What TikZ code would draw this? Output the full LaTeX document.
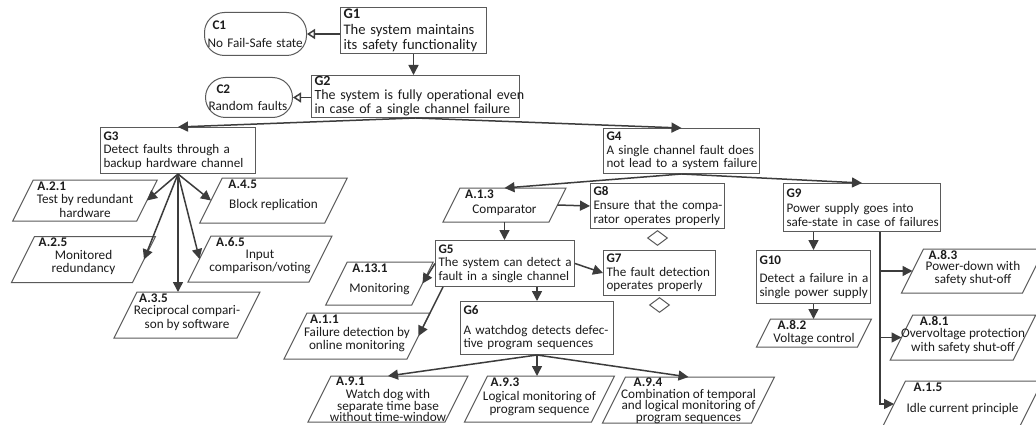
\documentclass[tikz,border=0pt]{standalone}
\usepackage{fontspec}
\setmainfont{Carlito}
\usetikzlibrary{arrows.meta,calc,shapes.geometric}

\definecolor{edgec}{HTML}{3C3C3C}
\definecolor{bordc}{HTML}{5A5A5A}
\definecolor{inkc}{HTML}{1C1C1C}

\tikzset{
  goal/.style={draw=bordc, line width=1pt, rectangle, anchor=north west,
    align=left, inner xsep=3pt, inner ysep=0pt, text=inkc},
  ctx/.style={draw=bordc, line width=1pt, rectangle, rounded corners=20pt,
    anchor=north west, align=left, inner xsep=3pt, inner ysep=0pt, text=inkc},
  pframe/.style={rectangle, inner sep=0pt, outer sep=0pt, draw=none},
  pbord/.style={draw=bordc, line width=1pt, line join=miter},
  ptxt/.style={align=center, inner sep=0pt, text=inkc},
  tight/.style={font=\fontsize{13.2}{11.6}\selectfont},
  idtxt/.style={font=\fontsize{13.2}{13.5}\selectfont\bfseries, inner sep=0pt, text=inkc},
  undev/.style={draw=bordc, line width=1pt, diamond, inner sep=0pt,
    minimum width=20pt, minimum height=15pt, anchor=north},
  arr/.style={draw=edgec, line width=1.5pt, -{Triangle[length=10pt,width=10pt]}},
  oarr/.style={draw=edgec, line width=1.5pt, -{Triangle[open,length=8pt,width=10pt,fill=white]}},
}

% goal box: [font] name, top-left corner, text width, height, gap after id,
% id, first line, second line
\newcommand\goalbox[9][\fontsize{13.1}{13.6}\selectfont]{%
  \node[goal, font=#1, text width=#4, minimum height=#5] (#2) at (#3)
    {\textbf{#7}\\[#6]\mbox{#8}\\\mbox{#9}};}
% solution parallelogram: [text style] name, centre, edge width, height,
% id offset, id, text shift, text
\newcommand\para[9][]{%
  \node[pframe, minimum width=#4, minimum height=#5] (#2) at (#3) {};
  \draw[pbord] ($(#2.south west)+(-0.25*#5,0)$) -- ($(#2.north west)+(0.25*#5,0)$)
     -- ($(#2.north east)+(0.25*#5,0)$) -- ($(#2.south east)+(-0.25*#5,0)$) -- cycle;
  \node[idtxt, anchor=base west] (#2id) at ($(#2.north west)+(0.25*#5,0)+(#6)$) {#7};
  \node[ptxt,#1] (#2txt) at ($(#2.center)+(0,#8)$) {#9};
}

\begin{document}
\begin{tikzpicture}[x={(1pt,0pt)}, y={(0pt,-1pt)}, font=\fontsize{13.2}{13.5}\selectfont]
\fill[white] (0,0) rectangle (1036,425);
\useasboundingbox (0,0) rectangle (1036,425);

% goals
\goalbox[\fontsize{14.6}{15.4}\selectfont]{G1}{340,7}{140}{46}{0pt}{G1}{The system maintains}{its safety functionality}
\goalbox[\fontsize{14}{14}\selectfont]{G2}{311,75}{202}{42}{0pt}{G2}{The system is fully operational even}{in case of a single channel failure}
\goalbox{G3}{100,127}{149}{46}{0pt}{G3}{Detect faults through a}{backup hardware channel}
\goalbox{G4}{603,128}{150}{45}{0pt}{G4}{A single channel fault does}{not lead to a system failure}
\goalbox{G5}{435,240}{133}{46}{0pt}{G5}{The system can detect a}{fault in a single channel}
\goalbox{G6}{460,301}{147}{53}{6pt}{G6}{A watchdog detects defec-}{tive program sequences}
\goalbox{G7}{603,250}{106}{45}{0pt}{G7}{The fault detection}{operates properly}
\goalbox{G8}{590,183}{128}{45}{0pt}{G8}{Ensure that the compa-}{rator operates properly}
\goalbox{G9}{783,183}{151}{48}{2pt}{G9}{Power supply goes into}{safe-state in case of failures}
\goalbox{G10}{756,250}{108}{53}{5pt}{G10}{Detect a failure in a}{single power supply}

% contexts
\node[ctx, text width=96, minimum height=43] (C1) at (204,12)
  {\hspace*{5pt}\textbf{C1}\\[4pt]\mbox{No Fail-Safe state}};
\node[ctx, text width=81, minimum height=40] (C2) at (205,77)
  {\hspace*{8pt}\textbf{C2}\\[3pt]\mbox{Random faults}};

% undeveloped markers
\node[undev] (G8u) at ($(G8.south)+(0,1)$) {};
\node[undev] (G7u) at ($(G7.south)+(0,1)$) {};

% solutions
\para{A21}{85,200.5}{124}{41}{4,10}{A.2.1}{5.5}{Test by redundant\\hardware}
\para{A25}{83.5,259.5}{121}{46}{4,10}{A.2.5}{3}{Monitored\\redundancy}
\para{A35}{187,315}{123}{46}{2,10}{A.3.5}{3}{Reciprocal compari-\\son by software}
\para{A45}{273.5,200.5}{125}{45}{6,10}{A.4.5}{4.5}{Block replication}
\para{A65}{260,259}{121}{46}{5,10}{A.6.5}{3}{Input\\comparison/voting}
\para{A131}{379.5,283.5}{86}{43}{5,10}{A.13.1}{5.5}{Monitoring}
\para{A11}{357,336}{123}{46}{3,10}{A.1.1}{3.5}{Failure detection by\\online monitoring}
\para{A13}{504.5,205}{106}{34}{5,10}{A.1.3}{5}{Comparator}
\para[tight]{A91}{388,399}{137}{46}{5,9.5}{A.9.1}{6.5}{Watch dog with\\separate time base\\without time-window}
\para{A93}{539.5,399}{127}{46}{3,10}{A.9.3}{4.5}{Logical monitoring of\\program sequence}
\para[tight]{A94}{688.5,400}{149}{46}{8,9}{A.9.4}{6.5}{Combination of temporal\\and logical monitoring of\\program sequences}
\para{A82}{814,333}{101}{28}{7,10}{A.8.2}{6.5}{Voltage control}
\para{A83}{973,271}{121}{44}{5,10}{A.8.3}{2.5}{Power-down with\\safety shut-off}
\para{A81}{963,337.5}{123}{45}{7,10}{A.8.1}{3.5}{Overvoltage protection\\with safety shut-off}
\para{A15}{962.5,404}{137}{46}{8,10}{A.1.5}{4.5}{Idle current principle}

% in-context-of links
\draw[oarr] (C1.east -| G1.west) -- (C1.east);
\draw[oarr] (C2.east -| G2.west) -- (C2.east);

% supported-by links
\draw[arr] (G1.south) -- (G1.south |- G2.north);
\draw[arr] (G2.south) -- (G3.north);
\draw[arr] (G2.south) -- (G4.north);

\draw[arr] (G3.south) -- (A21.east);
\draw[arr] (G3.south) -- (A25.east);
\draw[arr] (G3.south) -- (G3.south |- A35.north);
\draw[arr] (G3.south) -- (A65.west);
\draw[arr] (G3.south) -- (A45.west);

\draw[arr] (G4.south) -- (A13.north);
\draw[arr] (G4.south) -- (G9.north);
\draw[arr] (A13.east) -- (G8.west);
\draw[arr] (A13.south) -- (A13.south |- G5.north);

\draw[arr] (G5.east) -- (G7.west);
\draw[arr] (G6.north |- G5.south) -- (G6.north);
\draw[arr] (G5.west) -- (A131.east);
\draw[arr] ($(G5.south west)+(8,0)$) -- (A11.east);

\draw[arr] (G6.south) -- (A91.north);
\draw[arr] (G6.south) -- (G6.south |- A93.north);
\draw[arr] (G6.south) -- (A94.north);

\draw[arr] (G10.north |- G9.south) -- (G10.north);
\draw[arr] (G10.south) -- (G10.south |- A82.north);
\coordinate (G9s) at ($(G9.south)+(18,0)$);
\draw[arr] (G9s) |- (A15.west);
\draw[arr] (G9s |- A83.west) -- (A83.west);
\draw[arr] (G9s |- A81.west) -- (A81.west);
\end{tikzpicture}
\end{document}
